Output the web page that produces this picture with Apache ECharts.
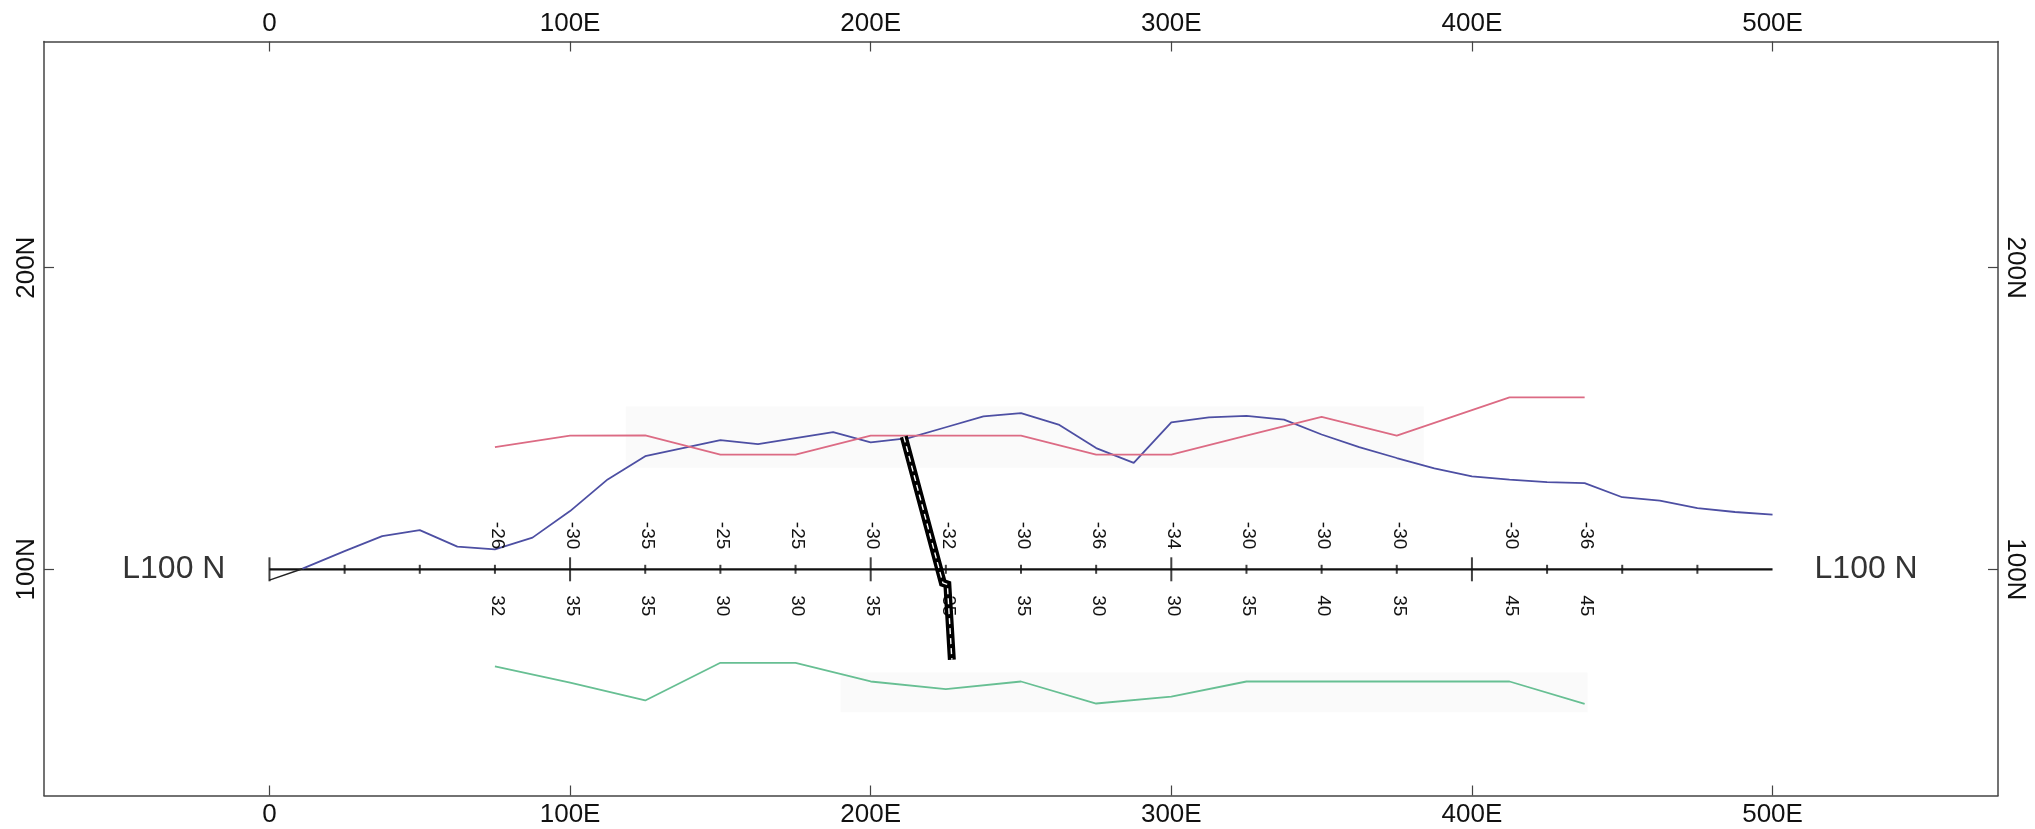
<!DOCTYPE html>
<html><head><meta charset="utf-8">
<script src="https://cdn.jsdelivr.net/npm/echarts@6.0.0/dist/echarts.min.js"></script>
<style>html,body{margin:0;padding:0;background:#fff;}#chart{width:2035px;height:829px;}</style>
</head><body><div id="chart"></div>
<script>
// ---- data ----
const xTickValues = [0, 100, 200, 300, 400, 500];
const xTickLabels = ['0', '100E', '200E', '300E', '400E', '500E'];
const yTickValues = [100, 200];
const yTickLabels = ['100N', '200N'];
const lineName = 'L100 N';
const lineNorthing = 100;
const lineStart = 0;
const lineEnd = 500;
const majorStations = [0, 100, 200, 300, 400];
const minorStations = [25, 50, 75, 125, 150, 175, 225, 250, 275, 325, 350, 375, 425, 450, 475];
const stations = [75, 100, 125, 150, 175, 200, 225, 250, 275, 300, 325, 350, 375, 412.5, 437.5];
const upperValues = ['-26', '-30', '-35', '-25', '-25', '-30', '-32', '-30', '-36', '-34', '-30', '-30', '-30', '-30', '-36'];
const lowerValues = ['32', '35', '35', '30', '30', '35', '35', '35', '30', '30', '35', '40', '35', '45', '45'];
const redProfile = [140.5, 144.3, 144.4, 138, 138, 144.3, 144.3, 144.3, 138, 138, 144.3, 150.5, 144.3, 157, 157];
const greenProfile = [67.8, 62.4, 56.5, 69, 69, 62.8, 60.3, 62.8, 55.5, 57.8, 62.8, 62.8, 62.8, 62.8, 55.4];
const topoX = [11, 25, 37.5, 50, 62.5, 75, 87.5, 100, 112.5, 125, 137.5, 150, 162.5, 175, 187.5, 200, 212.5, 225, 237.5, 250, 262.5, 275, 287.5, 300, 312.5, 325, 337.5, 350, 362.5, 375, 387.5, 400, 412.5, 425, 437.5, 450, 462.5, 475, 487.5, 500];
const topoY = [100.2, 106, 111, 113, 107.5, 106.6, 110.5, 119.3, 129.8, 137.5, 140.2, 142.8, 141.5, 143.5, 145.5, 142.1, 143.5, 147.1, 150.7, 151.8, 148, 140.2, 135.3, 148.7, 150.4, 150.9, 149.6, 144.7, 140.5, 136.9, 133.5, 130.8, 129.7, 128.9, 128.6, 123.9, 122.8, 120.3, 119, 118.1];
const startSegX = [0, 11];
const startSegY = [96.4, 100.2];
const drillX = [211, 224, 225.5, 227];
const drillY = [144, 95.5, 95, 70];

// ---- chart ----
const FONT = '"Liberation Sans", Arial, Helvetica, sans-serif';
const zip = (xs, ys) => xs.map((x, i) => [x, ys[i]]);
const xFmt = v => { const i = xTickValues.indexOf(v); return i >= 0 ? xTickLabels[i] : ''; };
const yFmt = v => { const i = yTickValues.indexOf(v); return i >= 0 ? yTickLabels[i] : ''; };

function xAxisCfg(pos, margin) {
  return {
    type: 'value', position: pos, min: -75, max: 575,
    axisLine: { show: true, onZero: false, lineStyle: { color: '#444', width: 1.5 } },
    axisTick: { show: true, inside: true, length: 10, customValues: xTickValues, lineStyle: { color: '#444', width: 1.2 } },
    axisLabel: { customValues: xTickValues, formatter: xFmt, fontSize: 26, color: '#111', fontFamily: FONT, margin: margin },
    splitLine: { show: false }
  };
}
function yAxisCfg(pos, rot) {
  return {
    type: 'value', position: pos, min: 25, max: 275,
    axisLine: { show: true, onZero: false, lineStyle: { color: '#444', width: 1.5 } },
    axisTick: { show: true, inside: true, length: 10, customValues: yTickValues, lineStyle: { color: '#444', width: 1.2 } },
    axisLabel: { customValues: yTickValues, formatter: yFmt, fontSize: 26, color: '#111', fontFamily: FONT, margin: 4, rotate: rot },
    splitLine: { show: false }
  };
}

const chart = echarts.init(document.getElementById('chart'), null, { renderer: 'canvas' });
chart.setOption({
  animation: false,
  backgroundColor: '#ffffff',
  grid: { left: 44, right: 37, top: 41.5, bottom: 33.5 },
  xAxis: [xAxisCfg('bottom', 6), xAxisCfg('top', 5)],
  yAxis: [yAxisCfg('left', 90), yAxisCfg('right', -90)],
  series: [
    { // survey line
      type: 'line', data: [[lineStart, lineNorthing], [lineEnd, lineNorthing]], symbol: 'none',
      lineStyle: { color: '#111', width: 2.2 }, z: 3,
      markArea: { silent: true, itemStyle: { color: '#fafafa' },
        data: [[{ coord: [118.5, 154] }, { coord: [384, 133.7] }], [{ coord: [190, 65.8] }, { coord: [438.5, 52.6] }]] }
    },
    { type: 'line', data: zip(startSegX, startSegY), symbol: 'none', lineStyle: { color: '#222', width: 1.5 }, z: 3 },
    { type: 'scatter', data: minorStations.map(s => [s, lineNorthing]), symbol: 'rect', symbolSize: [2, 9], itemStyle: { color: '#111' }, z: 3 },
    { type: 'scatter', data: majorStations.map(s => [s, lineNorthing]), symbol: 'rect', symbolSize: [2, 24], itemStyle: { color: '#111' }, z: 3 },
    { type: 'line', data: zip(topoX, topoY), symbol: 'none', lineStyle: { color: '#4d4fa3', width: 1.8 }, z: 4 },
    { type: 'line', data: zip(stations, redProfile), symbol: 'none', lineStyle: { color: '#dc6b84', width: 1.8 }, z: 4 },
    { type: 'line', data: zip(stations, greenProfile), symbol: 'none', lineStyle: { color: '#67bf93', width: 1.8 }, z: 4 },
    { type: 'line', data: zip(drillX, drillY), symbol: 'none', lineStyle: { color: '#000', width: 8, join: 'miter' }, z: 5 },
    { type: 'line', data: zip(drillX, drillY), symbol: 'none', lineStyle: { color: '#fff', width: 1.4, type: [6, 4] }, z: 6 },
    { // station readings
      type: 'custom', coordinateSystem: 'cartesian2d', z: 5,
      data: stations.map(s => [s, lineNorthing]),
      encode: { x: 0, y: 1 },
      renderItem: (params, api) => {
        const i = params.dataIndex;
        const p = api.coord([api.value(0), api.value(1)]);
        const st = (t, a) => ({ text: t, align: a, verticalAlign: 'middle', fontSize: 19, fontFamily: FONT, fill: '#111' });
        return { type: 'group', children: [
          { type: 'text', x: p[0] + 2, y: p[1] - 20, rotation: -Math.PI / 2, style: st(upperValues[i], 'right') },
          { type: 'text', x: p[0] + 2, y: p[1] + 26, rotation: -Math.PI / 2, style: st(lowerValues[i], 'left') }
        ] };
      }
    },
    { // line name labels
      type: 'scatter', symbolSize: 0, z: 5,
      data: [
        { value: [lineStart, lineNorthing], label: { show: true, position: 'left', distance: 44 } },
        { value: [lineEnd, lineNorthing], label: { show: true, position: 'right', distance: 42 } }
      ],
      label: { formatter: lineName, fontSize: 32, fontFamily: FONT, color: '#000' }
    }
  ]
});
</script>
</body></html>
